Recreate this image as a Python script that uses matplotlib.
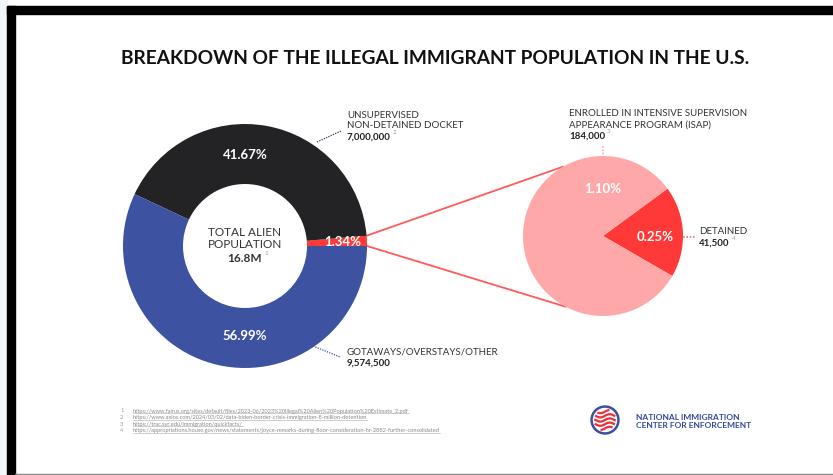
import numpy as np
import matplotlib
matplotlib.use("Agg")
import matplotlib.pyplot as plt
import matplotlib.patches as patches

# data
groups = ["UNSUPERVISED\nNON-DETAINED DOCKET", "GOTAWAYS/OVERSTAYS/OTHER"]
total = 16_800_000
unsupervised = 7_000_000
gotaways = 9_574_500
isap = 184_000
detained = 41_500
supervised = isap + detained
footnotes = [
    "https://www.fairus.org/sites/default/files/2023-06/2023%20Illegal%20Alien%20Population%20Estimate_2.pdf",
    "https://www.axios.com/2024/03/02/data-biden-border-crisis-immigration-8-million-detention",
    "https://trac.syr.edu/immigration/quickfacts/",
    "https://appropriations.house.gov/news/statements/joyce-remarks-during-floor-consideration-hr-2882-further-consolidated",
]

W, H = 833, 475
DARK = "#232326"
BLUE = "#3d52a0"
RED = "#ff3838"
PINK = "#ffa8aa"
TXT = "#333333"
plt.rcParams["font.family"] = ["Lato", "DejaVu Sans"]

fig = plt.figure(figsize=(W / 100, H / 100), dpi=100)
ax = fig.add_axes([0, 0, 1, 1])


def Y(y):
    return H - y


# main donut
c1 = (245, Y(246))
r1 = 122
ax.pie([supervised, unsupervised, gotaways], colors=[RED, DARK, BLUE],
       startangle=0, counterclock=True, radius=r1, center=c1,
       wedgeprops=dict(width=60, linewidth=0))

# zoomed pie
c2 = (603, Y(236))
r2 = 80
start2 = -30
ax.pie([detained, isap], colors=[RED, PINK], startangle=start2,
       counterclock=True, radius=r2, center=c2, wedgeprops=dict(linewidth=0))

ax.set_xlim(0, W)
ax.set_ylim(0, H)
ax.set_aspect("equal")
ax.axis("off")

# connector lines from the red slice to the zoomed pie
red_ang = 360 * supervised / total
p_top = (c1[0] + r1 * np.cos(np.radians(red_ang)), c1[1] + r1 * np.sin(np.radians(red_ang)))
p_bot = (c1[0] + r1, c1[1])
q_top = (c2[0] + r2 * np.cos(np.radians(120)), c2[1] + r2 * np.sin(np.radians(120)))
q_bot = (c2[0] + r2 * np.cos(np.radians(242)), c2[1] + r2 * np.sin(np.radians(242)))
ax.plot([p_top[0], q_top[0]], [p_top[1], q_top[1]], color="#ff5a5a", lw=1.3, zorder=0)
ax.plot([p_bot[0], q_bot[0]], [p_bot[1], q_bot[1]], color="#ff5a5a", lw=1.3, zorder=0)

# percentages
pct = lambda v: f"{100 * v / total:.2f}%"
kw = dict(color="white", fontsize=9.5, fontweight="bold", ha="center", va="center")
ax.text(245, Y(155), pct(unsupervised), **kw)
ax.text(245, Y(336), pct(gotaways), **kw)
ax.text(343, Y(242), pct(supervised), **kw)
ax.text(603, Y(189), pct(isap), **kw)
ax.text(655, Y(237), pct(detained), **kw)

# centre text
ax.text(245, Y(232), "TOTAL ALIEN", color=TXT, fontsize=8.5, ha="center", va="center")
ax.text(245, Y(245), "POPULATION", color=TXT, fontsize=8.5, ha="center", va="center")
t = ax.text(245, Y(258), f"{total / 1e6:.1f}M", color=TXT, fontsize=8.5,
            fontweight="bold", ha="center", va="center")
ax.annotate("1", xy=(1, 0.7), xycoords=t, xytext=(1.5, 0), textcoords="offset points",
            fontsize=4.5, color="#999999", va="bottom")


def label(x, y, lines, value, note):
    for i, ln in enumerate(lines):
        ax.text(x, Y(y + 11 * i), ln, color=TXT, fontsize=7, va="center")
    tv = ax.text(x, Y(y + 11 * len(lines)), f"{value:,}", color="#222222",
                 fontsize=7, fontweight="bold", va="center")
    ax.annotate(note, xy=(1, 0.7), xycoords=tv, xytext=(1.5, 0),
                textcoords="offset points", fontsize=4.5, color="#999999", va="bottom")


label(347, 115, groups[0].split("\n"), unsupervised, "2")
label(347, 352, [groups[1]], gotaways, "")
label(569, 114, ["ENROLLED IN INTENSIVE SUPERVISION", "APPEARANCE PROGRAM (ISAP)"], isap, "3")
label(699, 232, ["DETAINED"], detained, "4")

# dotted leaders
ax.plot([317, 341], [Y(142), Y(131)], ls=(0, (1, 1)), color="#333355", lw=0.9)
ax.plot([313, 340], [Y(346), Y(357)], ls=(0, (1, 1)), color=BLUE, lw=0.9)
ax.plot([603, 603], [Y(146), Y(157)], ls=(0, (1, 1)), color=PINK, lw=1.2)
ax.plot([683, 695], [Y(237), Y(237)], ls=(0, (1, 1)), color="#ff7070", lw=1.2)

# title
ax.text(435, Y(58), "BREAKDOWN OF THE ILLEGAL IMMIGRANT POPULATION IN THE U.S.",
        fontsize=13.8, fontweight="bold", color="#111111", ha="center", va="center")

# footnotes
fn_texts = []
for i, url in enumerate(footnotes):
    yy = Y(411 + 6.6 * i)
    ax.text(120, yy, str(i + 1), fontsize=4.1, color="#999999", va="center")
    fn_texts.append(ax.text(133, yy, url, fontsize=4.1, color="#888888", va="center"))

# logo
lc = (605, Y(420))
ax.add_patch(patches.Circle(lc, 14, color="#3a4f9e", zorder=3))
ax.add_patch(patches.Circle(lc, 11.5, color="white", zorder=4))
xs = np.linspace(lc[0] - 11.5, lc[0] + 11.5, 60)
for k in range(-2, 3):
    ys = lc[1] + 4.2 * k + 1.6 * np.sin((xs - lc[0]) / 3.0)
    m = (xs - lc[0]) ** 2 + (ys - lc[1]) ** 2 < 11 ** 2
    ax.plot(xs[m], ys[m], color="#e8313a", lw=1.6, zorder=5, solid_capstyle="butt")
ax.text(636, Y(417), "NATIONAL IMMIGRATION", fontsize=6.0, fontweight="bold",
        color="#34489a", va="center")
ax.text(636, Y(426), "CENTER FOR ENFORCEMENT", fontsize=6.0, fontweight="bold",
        color="#34489a", va="center")

# frame decoration
fig.patches.append(patches.Rectangle((0, 0), 7 / W, 1, transform=fig.transFigure,
                                     color="#f3f6fa", zorder=0))
fig.patches.append(patches.Rectangle((7 / W, 0), 8 / W, 1 - 6 / H, transform=fig.transFigure,
                                     color="black", zorder=1))
fig.patches.append(patches.Rectangle((7 / W, 1 - 14 / H), 1, 8 / H, transform=fig.transFigure,
                                     color="black", zorder=1))
fig.patches.append(patches.Rectangle((15 / W, 0), 1, 1.5 / H, transform=fig.transFigure,
                                     color="#888888", zorder=1))

# underline footnotes
fig.canvas.draw()
r = fig.canvas.get_renderer()
for tt in fn_texts:
    bb = tt.get_window_extent(r)
    ax.plot([bb.x0, bb.x1], [bb.y0 + 0.3, bb.y0 + 0.3], color="#aaaaaa", lw=0.4)

fig.savefig("out.png", dpi=100)
